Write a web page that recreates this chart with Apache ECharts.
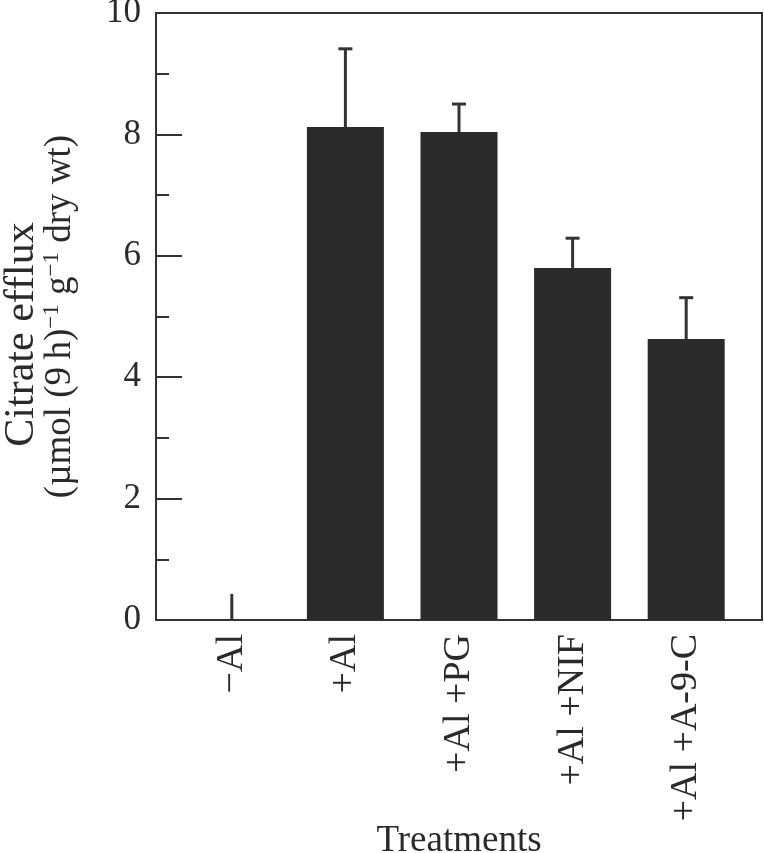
<!DOCTYPE html>
<html>
<head>
<meta charset="utf-8">
<script src="https://cdn.jsdelivr.net/npm/echarts@6/dist/echarts.min.js"></script>
<style>html,body{margin:0;padding:0;background:#fff;}#c{width:764px;height:853px;}</style>
</head>
<body>
<div id="c"></div>
<script>
var categories = ['\u2212Al', '+Al', '+Al +PG', '+Al +NIF', '+Al +A-9-C'];
var means = [0, 8.12, 8.04, 5.80, 4.63];
var errors = [0.43, 1.29, 0.46, 0.49, 0.68];
var yTicks = [0, 2, 4, 6, 8, 10];

var FONT = "'Liberation Serif', 'Times New Roman', serif";
var INK = '#2b2a2b';

var chart = echarts.init(document.getElementById('c'), null, {renderer: 'canvas'});
chart.setOption({
  animation: false,
  backgroundColor: '#ffffff',
  grid: [
    {left: 175, right: 21, top: 13, bottom: 233, show: false, outerBoundsMode: 'none', containLabel: false},
    {left: 156, right: 2, top: 13, bottom: 233, show: true, borderColor: '#333', borderWidth: 2, backgroundColor: 'transparent', outerBoundsMode: 'none', containLabel: false}
  ],
  xAxis: [
    {
      type: 'category', gridIndex: 0, data: categories,
      axisLine: {show: false}, axisTick: {show: false},
      axisLabel: {rotate: 90, margin: 14, fontSize: 38, fontFamily: FONT, color: INK, interval: 0}
    },
    {
      type: 'value', gridIndex: 1, min: 0, max: 1,
      axisLine: {show: false}, axisTick: {show: false}, axisLabel: {show: false}, splitLine: {show: false},
      name: 'Treatments', nameLocation: 'middle', nameGap: 203,
      nameTextStyle: {fontSize: 37, fontFamily: FONT, color: INK}
    }
  ],
  yAxis: [
    {
      type: 'value', gridIndex: 0, min: 0, max: 10, interval: 2,
      show: false
    },
    {
      type: 'value', gridIndex: 1, min: 0, max: 10, interval: 2,
      axisLine: {show: false},
      axisTick: {show: true, inside: true, length: 26, lineStyle: {color: '#333', width: 2}},
      minorTick: {show: true, splitNumber: 2, length: 13, lineStyle: {color: '#333', width: 2}},
      splitLine: {show: false},
      axisLabel: {margin: 15, fontSize: 35, fontFamily: FONT, color: INK,
        formatter: function (v) { return yTicks.indexOf(v) >= 0 ? String(v) : ''; }},
      name: '{h|Citrate efflux}\n{t|(\u00b5mol (9\u2009h)}{s|\u22121}{t| g}{s|\u22121}{t| dry wt)}',
      nameLocation: 'middle', nameRotate: 90, nameGap: 76,
      nameTextStyle: {
        fontFamily: FONT, color: INK,
        rich: {
          h: {fontSize: 42, lineHeight: 36, fontFamily: FONT, color: INK, padding: [0, 36, 0, 0]},
          t: {fontSize: 37, lineHeight: 40, fontFamily: FONT, color: INK},
          s: {fontSize: 23, lineHeight: 40, fontFamily: FONT, color: INK, verticalAlign: 'top'}
        }
      }
    }
  ],
  series: [
    {
      type: 'bar', xAxisIndex: 0, yAxisIndex: 0, data: means, barWidth: 77,
      itemStyle: {color: INK}, z: 2
    },
    {
      type: 'custom', xAxisIndex: 0, yAxisIndex: 0, z: 3,
      data: means.map(function (m, i) { return [i, m, errors[i]]; }),
      renderItem: function (params, api) {
        var i = api.value(0), m = api.value(1), e = api.value(2);
        var p0 = api.coord([i, m]);
        var p1 = api.coord([i, m + e]);
        var style = {stroke: '#333', lineWidth: 3};
        var children = [{type: 'line', shape: {x1: p0[0], y1: p0[1], x2: p1[0], y2: p1[1]}, style: style}];
        if (m > 0) {
          children.push({type: 'line', shape: {x1: p1[0] - 7, y1: p1[1], x2: p1[0] + 7, y2: p1[1]}, style: style});
        }
        return {type: 'group', children: children};
      }
    }
  ]
});
</script>
</body>
</html>
